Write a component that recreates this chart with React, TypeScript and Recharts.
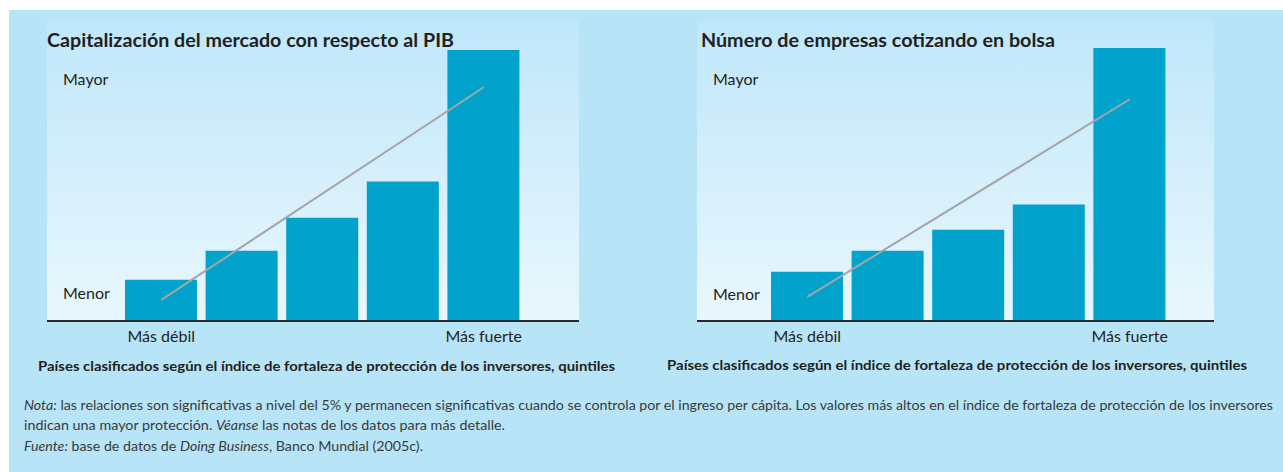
import React from 'react';
import { ComposedChart, Bar, Line, XAxis, YAxis, CartesianGrid } from 'recharts';

const quintiles = ['Q1', 'Q2', 'Q3', 'Q4', 'Q5'];
const xTickLabels = ['Más débil', '', '', '', 'Más fuerte'];
const capValues = [41, 70, 103, 139, 270];
const capTrend = [21, null, null, null, 233];
const firmValues = [49, 70, 91, 116, 272];
const firmTrend = [24, null, null, null, 221];
const capYTicks = [28, 241];
const firmYTicks = [27, 241];
const yTickLabels = ['Menor', 'Mayor'];

const leftTitle = 'Capitalización del mercado con respecto al PIB';
const rightTitle = 'Número de empresas cotizando en bolsa';
const axisTitle = 'Países clasificados según el índice de fortaleza de protección de los inversores, quintiles';

const capData = quintiles.map((q, i) => ({ q, v: capValues[i], t: capTrend[i] }));
const firmData = quintiles.map((q, i) => ({ q, v: firmValues[i], t: firmTrend[i] }));

const FONT = 'Lato, "Open Sans", sans-serif';
const BAR = '#01a2cb';

function YTick(props: any) {
  const { x, y, index } = props;
  return (
    <text x={x + 16} y={y} dy="0.355em" textAnchor="start" fontSize={16} fill="#231f20" fontFamily={FONT}>
      {yTickLabels[index] ?? ''}
    </text>
  );
}

function Panel({ data, yTicks, gid, padL, padR, width, marginRight }: any) {
  return (
    <ComposedChart
      width={width}
      height={472}
      data={data}
      margin={{ top: 20, left: 0, right: marginRight, bottom: 121 }}
    >
      <defs>
        <linearGradient id={gid} x1="0" y1="0" x2="0" y2="1">
          <stop offset="0%" stopColor="#bfe7fa" />
          <stop offset="100%" stopColor="#e9f7fd" />
        </linearGradient>
      </defs>
      <CartesianGrid fill={`url(#${gid})`} stroke="none" horizontal={false} vertical={false} />
      <XAxis
        dataKey="q"
        height={30}
        interval={0}
        padding={{ left: padL, right: padR }}
        tickLine={false}
        tickSize={0}
        tickMargin={10}
        axisLine={{ stroke: '#2a2a2a', strokeWidth: 2 }}
        tick={{ fontSize: 16, fill: '#231f20', fontFamily: FONT }}
        tickFormatter={(v: any, i: number) => xTickLabels[i]}
      />
      <YAxis
        domain={[0, 300]}
        ticks={yTicks}
        width={47}
        axisLine={false}
        tickLine={false}
        tickSize={0}
        tickMargin={0}
        interval={0}
        tick={<YTick />}
        allowDataOverflow
      />
      <Bar dataKey="v" fill={BAR} barSize={72} isAnimationActive={false} />
      <Line
        dataKey="t"
        stroke="#a5a5a5"
        strokeWidth={2}
        dot={false}
        connectNulls
        isAnimationActive={false}
      />
    </ComposedChart>
  );
}

export default function App() {
  return (
    <div style={{ position: 'absolute', left: 0, top: 0, width: 1283, height: 472, background: '#ffffff', overflow: 'hidden' }}>
      <div style={{ position: 'absolute', left: 9, top: 10, width: 1274, height: 462, background: '#b8e4f8' }} />
      <div style={{ position: 'absolute', left: 0, top: 0 }}>
        <Panel data={capData} yTicks={capYTicks} gid="gL" padL={74} padR={55} width={640} marginRight={61} />
      </div>
      <div style={{ position: 'absolute', left: 650, top: 0 }}>
        <Panel data={firmData} yTicks={firmYTicks} gid="gR" padL={70} padR={44} width={633} marginRight={69} />
      </div>
      <svg width={1283} height={472} style={{ position: 'absolute', left: 0, top: 0, pointerEvents: 'none' }}>
        <g fontFamily={FONT} fill="#231f20">
          <text x={47} y={47} fontSize={18} fontWeight={700} textLength={407} lengthAdjust="spacingAndGlyphs">{leftTitle}</text>
          <text x={701} y={47} fontSize={18} fontWeight={700} textLength={354} lengthAdjust="spacingAndGlyphs">{rightTitle}</text>
          <text x={38} y={371} fontSize={14} fontWeight={700} textLength={577} lengthAdjust="spacingAndGlyphs">{axisTitle}</text>
          <text x={667} y={370} fontSize={14} fontWeight={700} textLength={580} lengthAdjust="spacingAndGlyphs">{axisTitle}</text>
        </g>
        <g fontFamily={FONT} fill="#3a3a3a" fontSize={14}>
          <text x={24} y={410} textLength={1249} lengthAdjust="spacingAndGlyphs">
            <tspan fontStyle="italic">Nota:</tspan> las relaciones son significativas a nivel del 5% y permanecen significativas cuando se controla por el ingreso per cápita. Los valores más altos en el índice de fortaleza de protección de los inversores
          </text>
          <text x={24} y={430} textLength={481} lengthAdjust="spacingAndGlyphs">
            indican una mayor protección. <tspan fontStyle="italic">Véanse</tspan> las notas de los datos para más detalle.
          </text>
          <text x={24} y={451} textLength={399} lengthAdjust="spacingAndGlyphs">
            <tspan fontStyle="italic">Fuente:</tspan> base de datos de <tspan fontStyle="italic">Doing Business</tspan>, Banco Mundial (2005c).
          </text>
        </g>
      </svg>
    </div>
  );
}
